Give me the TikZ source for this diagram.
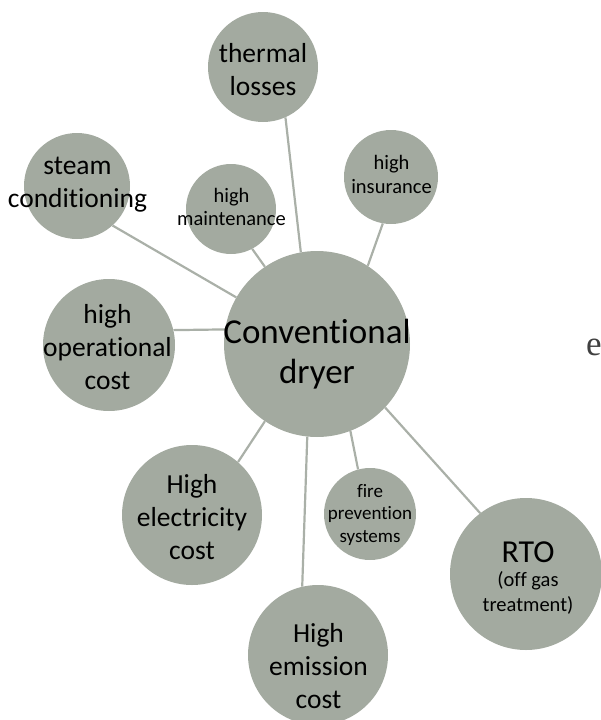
\documentclass[tikz,border=0pt]{standalone}
\usepackage{fontspec}
\setmainfont{Carlito}[Ligatures=NoCommon]
\newfontfamily\serifface{Liberation Serif}
\definecolor{bubble}{RGB}{163,170,160}
\definecolor{linkc}{RGB}{170,176,168}
\newcommand\stk[3]{{\fontsize{#1}{#2}\selectfont\begin{tabular}[t]{@{}c@{}}#3\end{tabular}}}
\begin{document}
\begin{tikzpicture}[x=1pt,y=-1pt,
  bub/.style={circle,fill=bubble,draw=none,inner sep=0pt,minimum size=#1},
  lbl/.style={anchor=base,inner sep=0pt,text=black},
  link/.style={draw=linkc,line width=2.2pt}]
\useasboundingbox (0,0) rectangle (601,720);
\node[bub=186pt] (c) at (317,344) {};
\node[bub=110pt] (th) at (263,67) {};
\node[bub=106pt] (st) at (77,186) {};
\node[bub=90pt] (hm) at (231,209) {};
\node[bub=94pt] (hi) at (391,177) {};
\node[bub=132pt] (op) at (109,345) {};
\node[bub=140pt] (el) at (192,515) {};
\node[bub=92pt] (fi) at (370,514) {};
\node[bub=140pt] (em) at (318,655) {};
\node[bub=152pt] (rto) at (526,574) {};
\draw[link] (c.100.5) -- (th.-66.7);
\draw[link] (c.150) -- (st.-48.7);
\draw[link] (c.124) -- (hm.-62);
\draw[link] (c.57.7) -- (hi.-100);
\draw[link] (c.171) -- (op.13.4);
\draw[link] (c.-124) -- (el.49.7);
\draw[link] (c.-96.7) -- (em.103.6);
\draw[link] (c.-69) -- (fi.105);
\draw[link] (c.-43) -- (rto.127);
% labels
\node[lbl] (tc) at (317,343) {\stk{35}{40}{Conventional\\dryer}};
\node[lbl] (tth) at (263,62) {\stk{27.5}{33}{thermal\\losses}};
\node[lbl] (tst) at (77.5,174) {\stk{27.5}{33}{steam\\conditioning}};
\node[lbl] (thm) at (231.5,202) {\stk{20.5}{23}{high\\maintenance}};
\node[lbl] (thi) at (391.5,169) {\stk{20.5}{24}{high\\insurance}};
\node[lbl] (top) at (107.5,323) {\stk{27.5}{33}{high\\operational\\cost}};
\node[lbl] (tel) at (192,493) {\stk{27.5}{33}{High\\electricity\\cost}};
\node[lbl] (tfi) at (370,497) {\stk{19}{22.5}{fire\\prevention\\systems}};
\node[lbl] (tem) at (318.5,642) {\stk{27.5}{33}{High\\emission\\cost}};
\node[lbl] (trto) at (528,562) {\stk{20.5}{24.5}{{\fontsize{32}{36}\selectfont RTO}\\(off gas\\treatment)}};
\node[anchor=base west,inner sep=0pt,text=black!75,font=\serifface\fontsize{35}{40}\selectfont] (e) at (586,355) {e};
\end{tikzpicture}
\end{document}
